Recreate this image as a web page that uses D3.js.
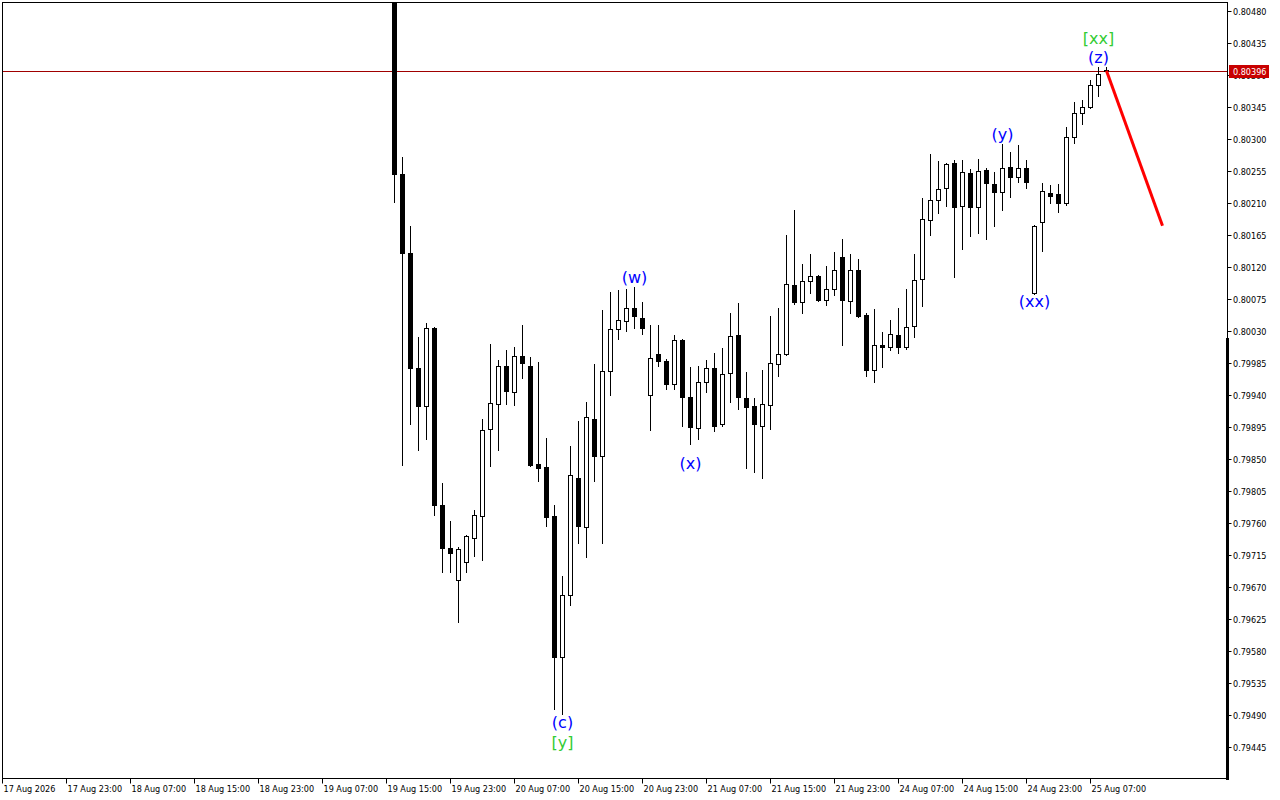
<!DOCTYPE html>
<html><head><meta charset="utf-8">
<script src="https://cdn.jsdelivr.net/npm/d3@7"></script>
<style>html,body{margin:0;padding:0;background:#fff;overflow:hidden}svg{display:block}</style>
</head><body><svg id="chart" width="1280" height="800"></svg>
<script>
// ---- data (hourly candles, 19 Aug 16:00 -> 25 Aug 09:00) ----
const opens  = [0.80530,0.80251,0.80140,0.79978,0.79925,0.80034,0.79785,0.79725,0.79680,0.79705,
                0.79739,0.79770,0.79892,0.79927,0.79981,0.79944,0.79995,0.79981,0.79843,0.79839,
                0.79770,0.79572,0.79659,0.79823,0.79754,0.79906,0.79854,0.79974,0.80033,0.80044,
                0.80062,0.80048,0.79940,0.79998,0.79988,0.79955,0.80017,0.79937,0.79894,0.79958,
                0.79978,0.79899,0.79971,0.80024,0.79936,0.79925,0.79896,0.79926,0.79984,0.79998,
                0.80095,0.80071,0.80100,0.80107,0.80074,0.80089,0.80134,0.80072,0.80116,0.80052,
                0.79975,0.80010,0.80007,0.80024,0.80007,0.80037,0.80103,0.80186,0.80214,0.80231,
                0.80266,0.80206,0.80252,0.80204,0.80256,0.80237,0.80225,0.80261,0.80247,0.80259,
                0.80083,0.80183,0.80224,0.80223,0.80210,0.80303,0.80337,0.80345,0.80376,0.80397];
const highs  = [0.80545,0.80275,0.80178,0.80022,0.80041,0.80036,0.79816,0.79763,0.79726,0.79743,
                0.79778,0.79906,0.80012,0.79989,0.80003,0.80008,0.80038,0.79993,0.79986,0.79880,
                0.79785,0.79685,0.79868,0.79903,0.79930,0.79984,0.80060,0.80085,0.80088,0.80089,
                0.80092,0.80071,0.80038,0.80038,0.79990,0.80024,0.80019,0.79979,0.79981,0.79989,
                0.79999,0.80006,0.80055,0.80069,0.79972,0.79936,0.79975,0.80051,0.80062,0.80165,
                0.80200,0.80124,0.80138,0.80109,0.80121,0.80141,0.80159,0.80138,0.80131,0.80055,
                0.80061,0.80029,0.80045,0.80062,0.80089,0.80138,0.80217,0.80279,0.80269,0.80266,
                0.80270,0.80270,0.80258,0.80272,0.80259,0.80254,0.80293,0.80282,0.80292,0.80270,
                0.80179,0.80238,0.80235,0.80237,0.80317,0.80352,0.80355,0.80383,0.80401,0.80401];
const lows   = [0.80211,0.79842,0.79899,0.79863,0.79878,0.79771,0.79691,0.79691,0.79621,0.79691,
                0.79714,0.79708,0.79840,0.79863,0.79927,0.79926,0.79964,0.79840,0.79819,0.79756,
                0.79498,0.79491,0.79645,0.79732,0.79712,0.79819,0.79732,0.79940,0.80019,0.80030,
                0.80034,0.80026,0.79891,0.79981,0.79948,0.79948,0.79896,0.79871,0.79878,0.79944,
                0.79889,0.79896,0.79930,0.79920,0.79837,0.79832,0.79823,0.79892,0.79967,0.79996,
                0.80068,0.80055,0.80083,0.80072,0.80067,0.80081,0.80010,0.80055,0.80050,0.79967,
                0.79958,0.79979,0.80003,0.79999,0.80005,0.80022,0.80065,0.80165,0.80196,0.80206,
                0.80106,0.80145,0.80164,0.80168,0.80159,0.80178,0.80200,0.80218,0.80240,0.80231,
                0.80082,0.80143,0.80210,0.80197,0.80207,0.80294,0.80321,0.80344,0.80360,0.80394];
const closes = [0.80251,0.80140,0.79978,0.79925,0.80034,0.79785,0.79725,0.79718,0.79724,0.79742,
                0.79771,0.79891,0.79929,0.79981,0.79946,0.79995,0.79985,0.79842,0.79837,0.79768,
                0.79572,0.79659,0.79828,0.79756,0.79909,0.79854,0.79974,0.80033,0.80045,0.80062,
                0.80051,0.80034,0.79992,0.79988,0.79955,0.80017,0.79937,0.79895,0.79958,0.79978,
                0.79896,0.79970,0.80023,0.79937,0.79923,0.79899,0.79927,0.79985,0.79998,0.80096,
                0.80071,0.80100,0.80107,0.80074,0.80089,0.80116,0.80074,0.80116,0.80051,0.79975,
                0.80010,0.80007,0.80026,0.80007,0.80036,0.80102,0.80188,0.80214,0.80230,0.80265,
                0.80204,0.80254,0.80204,0.80255,0.80238,0.80225,0.80259,0.80247,0.80259,0.80240,
                0.80178,0.80227,0.80220,0.80210,0.80303,0.80337,0.80345,0.80376,0.80391,0.80396];

const xTickIndex  = [-49,-41,-33,-25,-17,-9,-1,7,15,23,31,39,47,55,63,71,79,87];
const xTickLabels = ["17 Aug 2026","17 Aug 23:00","18 Aug 07:00","18 Aug 15:00","18 Aug 23:00",
                     "19 Aug 07:00","19 Aug 15:00","19 Aug 23:00","20 Aug 07:00","20 Aug 15:00",
                     "20 Aug 23:00","21 Aug 07:00","21 Aug 15:00","21 Aug 23:00","24 Aug 07:00",
                     "24 Aug 15:00","24 Aug 23:00","25 Aug 07:00"];
const yTickValues = [0.79445,0.79490,0.79535,0.79580,0.79625,0.79670,0.79715,0.79760,0.79805,
                     0.79850,0.79895,0.79940,0.79985,0.80030,0.80075,0.80120,0.80165,0.80210,
                     0.80255,0.80300,0.80345,0.80390,0.80435,0.80480];
const lastPrice = 0.80396;

const forecastIndex = [89, 96];
const forecastPrice = [0.80396, 0.80178];

const waveText  = ["(c)","[y]","(w)","(x)","(y)","(xx)","[xx]","(z)"];
const waveIndex = [21, 21, 30, 37, 76, 80, 88, 88];
const wavePrice = [0.79480,0.79451,0.80105,0.79843,0.80306,0.80072,0.80442,0.80414];

// ---- layout ----
const L = 2.5, R = 1227.5, T = 2.5, B = 778.5;
const svg = d3.select("#chart");
const x = d3.scaleLinear().domain([-49, 104]).range([2.5, 2.5 + 153 * 8]);
const y = d3.scaleLinear().domain([0.79445, 0.80480]).range([747, 11]);
const axisFont = '"DejaVu Sans Condensed","DejaVu Sans",sans-serif';

svg.append("rect").attr("width",1280).attr("height",800).attr("fill","#fff");

svg.append("defs").append("clipPath").attr("id","plot")
  .append("rect").attr("x",L).attr("y",T).attr("width",R-L).attr("height",B-T);

// price line
svg.append("line")
  .attr("x1",L).attr("x2",R)
  .attr("y1",Math.round(y(lastPrice))+0.5).attr("y2",Math.round(y(lastPrice))+0.5)
  .attr("stroke","#a00000").attr("stroke-width",1);

const g = svg.append("g").attr("clip-path","url(#plot)");
const data = opens.map((o,i)=>({i,o,h:highs[i],l:lows[i],c:closes[i]}));

const cg = g.selectAll("g.c").data(data).join("g").attr("class","c");
cg.append("line")
  .attr("x1",d=>x(d.i)).attr("x2",d=>x(d.i))
  .attr("y1",d=>Math.round(y(d.h))).attr("y2",d=>Math.round(y(d.l))+1)
  .attr("stroke","#000").attr("stroke-width",1);
cg.each(function(d){
  const sel = d3.select(this);
  const yo = Math.round(y(d.o)), yc = Math.round(y(d.c));
  if (d.c < d.o) {
    sel.append("rect").attr("x",x(d.i)-2.5).attr("width",5)
      .attr("y",yo).attr("height",Math.max(1,yc-yo+1)).attr("fill","#000");
  } else {
    sel.append("rect").attr("x",x(d.i)-2).attr("width",4)
      .attr("y",yc+0.5).attr("height",Math.max(0,yo-yc))
      .attr("fill","#fff").attr("stroke","#000").attr("stroke-width",1);
  }
});

// forecast line
g.append("line")
  .attr("x1",x(forecastIndex[0])).attr("y1",y(forecastPrice[0]))
  .attr("x2",x(forecastIndex[1])).attr("y2",y(forecastPrice[1]))
  .attr("stroke","#ff0000").attr("stroke-width",3);

// wave labels
svg.selectAll("text.w").data(waveText).join("text").attr("class","w")
  .attr("x",(d,k)=>x(waveIndex[k])).attr("y",(d,k)=>y(wavePrice[k]))
  .attr("text-anchor","middle").attr("dominant-baseline","central")
  .attr("font-family",'"DejaVu Sans",sans-serif').attr("font-size",16)
  .attr("fill",d=>d[0]==="[" ? "#33cc33" : "#0000ff")
  .text(d=>d);

// frame
svg.append("rect").attr("x",L).attr("y",T).attr("width",R-L).attr("height",B-T)
  .attr("fill","none").attr("stroke","#000").attr("stroke-width",1);
svg.append("rect").attr("x",1226).attr("y",338).attr("width",3).attr("height",442).attr("fill","#000");

// y axis
const ya = svg.append("g");
yTickValues.forEach(v=>{
  const yy = Math.round(y(v))+0.5;
  ya.append("line").attr("x1",R).attr("x2",R+4).attr("y1",yy).attr("y2",yy).attr("stroke","#000");
  ya.append("text").attr("x",1233).attr("y",yy).attr("dominant-baseline","central")
    .attr("font-family",axisFont).attr("font-size",9).attr("fill","#000")
    .text(v.toFixed(5));
});
// current price tag
const py = Math.round(y(lastPrice));
ya.append("rect").attr("x",1229).attr("y",py-6).attr("width",40).attr("height",13).attr("fill","#c80000");
ya.append("text").attr("x",1233).attr("y",py+0.5).attr("dominant-baseline","central")
  .attr("font-family",axisFont).attr("font-size",9).attr("fill","#fff").text(lastPrice.toFixed(5));

// x axis
const xa = svg.append("g");
xTickIndex.forEach((ix,k)=>{
  const xx = x(ix);
  xa.append("line").attr("x1",xx).attr("x2",xx).attr("y1",B).attr("y2",B+5).attr("stroke","#000");
  xa.append("text").attr("x",xx+1).attr("y",792)
    .attr("font-family",axisFont).attr("font-size",9).attr("fill","#000").text(xTickLabels[k]);
});
</script>
</body></html>
